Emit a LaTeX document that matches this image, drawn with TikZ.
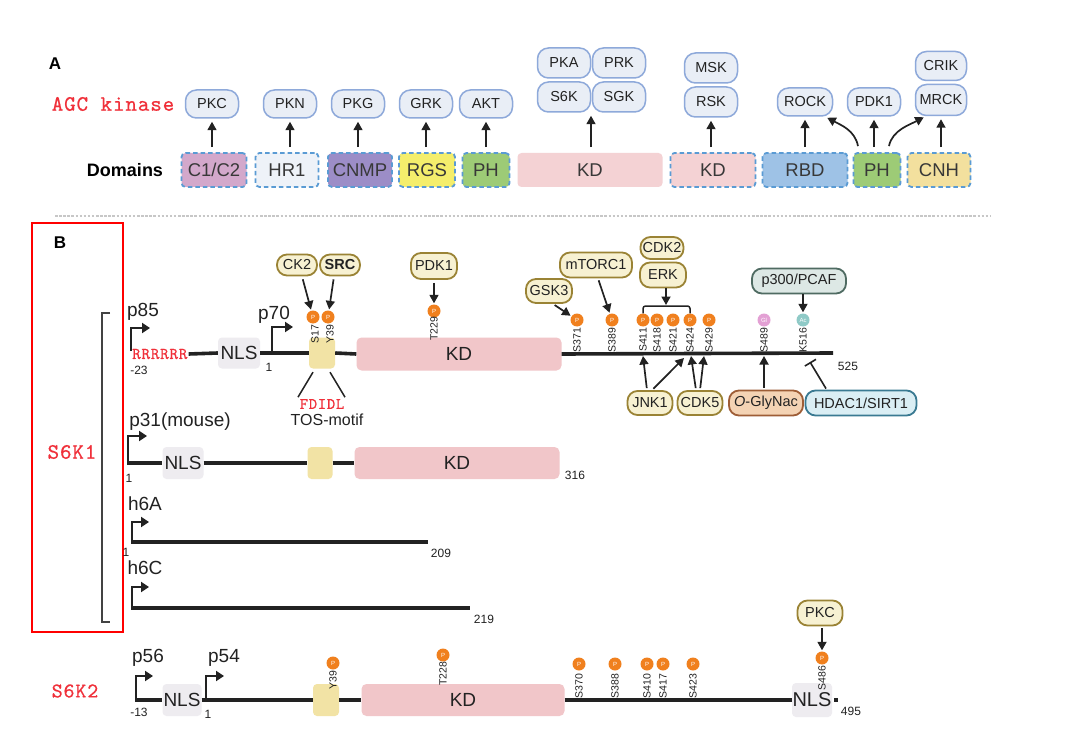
\documentclass[tikz,border=0pt]{standalone}
\usepackage{fontspec}
\setmainfont{Liberation Sans}
\newfontfamily\rmono{lmmono10-regular.otf}[LetterSpace=4,FakeBold=0.6]
\usetikzlibrary{arrows.meta,calc}
\newcommand\fsz[1]{\fontsize{#1}{#1}\selectfont}
\definecolor{apf}{HTML}{E9EEF6}
\definecolor{apb}{HTML}{8EA9DA}
\definecolor{dbl}{HTML}{5A9BD4}
\definecolor{kf}{HTML}{F7F1D2}
\definecolor{kb}{HTML}{9A8335}
\definecolor{lc}{HTML}{222222}
\definecolor{nlsf}{HTML}{EEECF0}
\definecolor{kdf}{HTML}{F1C6C9}
\definecolor{kdaf}{HTML}{F4D2D4}
\definecolor{tosf}{HTML}{F2E3A5}
\definecolor{po}{HTML}{F0801E}
\definecolor{glc}{HTML}{E3A0D4}
\definecolor{acc}{HTML}{8FCAC7}
\definecolor{redt}{HTML}{F0303A}
\definecolor{c1c2}{HTML}{D3A8CB}
\definecolor{hr1}{HTML}{EEF2F8}
\definecolor{cnmp}{HTML}{9C8DC7}
\definecolor{rgs}{HTML}{F4EE6C}
\definecolor{phg}{HTML}{9DCB76}
\definecolor{rbd}{HTML}{9EC2E6}
\definecolor{cnh}{HTML}{F3E09E}
\definecolor{p300f}{HTML}{DDE8E5}
\definecolor{p300b}{HTML}{4F6B62}
\definecolor{oglf}{HTML}{F4D3B4}
\definecolor{oglb}{HTML}{9E5D36}
\definecolor{hdf}{HTML}{DAEEF4}
\definecolor{hdb}{HTML}{3A7A92}
\tikzset{
 apill/.style={draw=apb, fill=apf, line width=1.5pt, rounded corners=11pt, minimum width=53pt, minimum height=28pt, inner sep=0pt, text=lc, font=\fsz{14.5}},
 dom/.style={draw=dbl, line width=1.8pt, dash pattern=on 4.5pt off 3pt, rounded corners=4pt, minimum height=34pt, inner sep=0pt, text=lc!90, font=\fsz{18.5}},
 kpill/.style={draw=kb, fill=kf, line width=1.8pt, rounded corners=10pt, minimum height=24pt, inner sep=0pt, text=lc, font=\fsz{14.5}},
 arr/.style={line width=1.7pt, draw=lc, -{Triangle[length=8.5pt,width=9pt]}},
 bbone/.style={line width=3.6pt, draw=lc},
 prom/.style={line width=2.2pt, draw=lc, -{Triangle[length=8pt,width=10pt]}},
 phos/.style={circle, fill=po, minimum size=13pt, inner sep=0pt, text=white, font=\fsz{6}},
 site/.style={rotate=90, inner sep=0pt, text=lc, font=\fsz{10.5}},
 num/.style={inner sep=0pt, text=lc, font=\fsz{12}},
 dlab/.style={inner sep=0pt, text=lc, font=\fsz{19}},
 nls/.style={fill=nlsf, rounded corners=4pt, minimum width=42pt, minimum height=31pt, inner sep=0pt, text=lc, font=\fsz{19}},
 kdbox/.style={fill=kdf, rounded corners=5pt, minimum height=33pt, inner sep=0pt, text=lc, font=\fsz{19}},
 tosbox/.style={fill=tosf, rounded corners=4pt, minimum width=26pt, minimum height=31pt, inner sep=0pt},
 redlab/.style={text=redt, inner sep=0pt},
}
\begin{document}
\begin{tikzpicture}[x=1pt,y=-1pt]
\useasboundingbox (0,0) rectangle (1080,741);
\fill[white] (0,0) rectangle (1080,741);

% ---------------- Panel A ----------------
\node[inner sep=0pt, font=\bfseries\fsz{17}] (la) at (55,64) {A};
\node[redlab, font=\rmono\fsz{22}] (agc) at (113,104) {AGC kinase};
\node[inner sep=0pt, font=\bfseries\fsz{18}] (domlab) at (125,170) {Domains};

\node[apill] (pkc) at (212,104) {PKC};
\node[apill] (pkn) at (290,104) {PKN};
\node[apill] (pkg) at (358,104) {PKG};
\node[apill] (grk) at (426,104) {GRK};
\node[apill] (akt) at (486,104) {AKT};
\node[apill, minimum height=30pt] (pka) at (564,63) {PKA};
\node[apill, minimum height=30pt] (prk) at (619,63) {PRK};
\node[apill, minimum height=30pt] (s6k) at (564,97) {S6K};
\node[apill, minimum height=30pt] (sgk) at (619,97) {SGK};
\node[apill, minimum height=30pt] (msk) at (711,68) {MSK};
\node[apill, minimum height=30pt] (rsk) at (711,102) {RSK};
\node[apill, minimum width=55pt] (rock) at (805,102) {ROCK};
\node[apill] (pdk) at (874,102) {PDK1};
\node[apill, minimum width=51pt, minimum height=29pt] (crik) at (941,66) {CRIK};
\node[apill, minimum width=51pt, minimum height=31pt] (mrck) at (941,100) {MRCK};

\node[dom, fill=c1c2, minimum width=65pt] (dc1) at (214,170) {C1/C2};
\node[dom, fill=hr1, minimum width=63pt] (dhr) at (287,170) {HR1};
\node[dom, fill=cnmp, minimum width=64pt] (dcn) at (360,170) {CNMP};
\node[dom, fill=rgs, minimum width=56pt] (drg) at (427,170) {RGS};
\node[dom, fill=phg, minimum width=47pt] (dph) at (486,170) {PH};
\node[dom, draw=none, fill=kdaf, minimum width=145pt] (dkd) at (590,170) {KD};
\node[dom, fill=kdaf, minimum width=85pt] (dkd2) at (713,170) {KD};
\node[dom, fill=rbd, minimum width=85pt] (drb) at (805,170) {RBD};
\node[dom, fill=phg, minimum width=47pt] (dph2) at (877,170) {PH};
\node[dom, fill=cnh, minimum width=63pt] (dcnh) at (939,170) {CNH};

\foreach \d/\k in {dc1/pkc,dhr/pkn,dcn/pkg,drg/grk,dph/akt,dkd2/rsk,drb/rock,dcnh/mrck}
  \draw[arr, shorten <=5pt, shorten >=3pt] (\d.north -| \k) -- (\k.south);
\draw[arr, shorten <=5pt, shorten >=3pt] ([xshift=1pt]dkd.north) -- ([xshift=1pt]dkd.north |- s6k.south);
\draw[arr, shorten <=5pt, shorten >=3pt] (dph2.north -| pdk) -- (pdk.south);
\draw[arr] ([xshift=-19pt,yshift=6pt]dph2.north) .. controls +(-3,-16) and +(13,7) .. ([xshift=-6pt,yshift=-1pt]rock.south east);
\draw[arr] ([xshift=12pt,yshift=6pt]dph2.north) .. controls +(3,-16) and +(-13,7) .. ([xshift=9pt,yshift=-1pt]mrck.south west);

% separator
\coordinate (sepl) at (55,216);
\coordinate (sepr) at (990,216);
\draw[draw=black!22, line width=2.5pt, dash pattern=on 2.5pt off 1.6pt] (sepl) -- (sepr);

% ---------------- Panel B ----------------
\node[draw=red, line width=2pt, minimum width=91pt, minimum height=409pt, inner sep=0pt] (rbox) at (77.5,427.5) {};
\node[inner sep=0pt, font=\bfseries\fsz{17}] (lb) at (60,243) {B};
\node[redlab, font=\rmono\fsz{22}] (s6k1) at (72,452) {S6K1};
\coordinate (brt) at (110,313);
\coordinate (brb) at (110,622);
\draw[line width=1.5pt, draw=lc!85] (brt) -- ++(-8,0) -- ++(0,309) -- (brb);

% p85 / p70 row (y = 353)
\node[dlab] (lp85) at (143,312) {p85};
\coordinate (p85s) at (131,351);
\draw[prom] (p85s) -- ++(0,-23) -- ++(19,0);
\node[redlab, font=\rmono\fsz{16.5}, anchor=west] (rr) at (132,354) {RRRRRR};
\node[num] (n23) at (139,370) {-23};
\node[nls] (nls1) at (239,353) {NLS};
\node[tosbox] (tos1) at (322,353) {};
\node[kdbox, minimum width=205pt] (kd1) at (459,354) {KD};
\coordinate (e525) at (833,353);
\draw[bbone] ([xshift=1pt]rr.east) -- (nls1.west);
\draw[bbone] (nls1.east) -- (tos1.west);
\draw[bbone] (tos1.east) -- (kd1.west);
\draw[bbone] (kd1.east) -- (e525);
\coordinate (p70s) at (272,353);
\draw[prom] (p70s) -- ++(0,-26) -- ++(21,0);
\node[dlab] (lp70) at (274,315) {p70};
\node[num] (n1a) at (269,367) {1};
\node[num] (n525) at (848,366) {525};

\node[phos] (ps17) at (313,317) {P};
\node[phos] (py39) at (328,317) {P};
\node[site] (ls17) at (315,334) {S17};
\node[site] (ly39) at (330,334) {Y39};
\node[kpill, minimum width=40pt, minimum height=21pt] (ck2) at (297,265) {CK2};
\node[kpill, minimum width=40pt, minimum height=21pt, font=\bfseries\fsz{14.5}] (src) at (340,265) {SRC};
\draw[arr, shorten <=3pt, shorten >=1pt] ([xshift=5pt]ck2.south) -- (ps17);
\draw[arr, shorten <=3pt, shorten >=1pt] ([xshift=-6pt]src.south) -- (py39);
\draw[line width=1.5pt, draw=lc] ([xshift=-9pt,yshift=-3.5pt]tos1.south) -- ++(-15,25);
\draw[line width=1.5pt, draw=lc] ([xshift=8pt,yshift=-3.5pt]tos1.south) -- ++(15,25);
\node[redlab, font=\rmono\fsz{16}] (fdidl) at (322,404) {FDIDL};
\node[inner sep=0pt, text=lc, font=\fsz{16}] (tosm) at (327,420) {TOS-motif};

\node[kpill, minimum width=46pt, minimum height=26pt] (pdkb) at (434,266) {PDK1};
\node[phos] (pt229) at (434,311) {P};
\node[site] (lt229) at (434,329) {T229};
\draw[arr, shorten <=3pt, shorten >=1pt] (pdkb.south) -- (pt229);

\foreach \n/\x/\t in {p371/577/S371,p389/612/S389,p411/643/S411,p418/657/S418,p421/673/S421,p424/690/S424,p429/709/S429}{
  \node[phos] (\n) at (\x,320) {P};
  \node[site] (l\n) at (\x,340) {\t};
}
\node[phos, fill=glc] (gl489) at (764,320) {Gl};
\node[site] (lgl489) at (764,340) {S489};
\node[phos, fill=acc] (ac516) at (803,320) {Ac};
\node[site] (lac516) at (803,340) {K516};

\node[kpill, minimum width=46pt, minimum height=24pt] (gsk) at (549,291) {GSK3};
\draw[arr, shorten <=2pt, shorten >=1pt] ([xshift=4pt]gsk.south) -- (p371);
\node[kpill, minimum width=72pt, minimum height=25pt] (mtor) at (596,265) {mTORC1};
\draw[arr, shorten <=2pt, shorten >=1pt] ([xshift=2pt]mtor.south) -- (p389);
\node[kpill, minimum width=43pt, minimum height=22pt] (cdk2) at (662,248) {CDK2};
\node[kpill, minimum width=46pt, minimum height=25pt] (erk) at (663,275) {ERK};
\coordinate (brk) at (666,306);
\draw[line width=1.5pt, draw=lc, rounded corners=2.5pt] (p411.north) -- (p411.north |- brk) -- (p424.north |- brk) -- (p424.north);
\draw[arr] ([xshift=3pt]erk.south) -- ([yshift=1pt]brk);
\node[kpill, draw=p300b, fill=p300f, minimum width=94pt, minimum height=25pt] (p300) at (799,281) {p300/PCAF};
\draw[arr, shorten >=1pt] (p300.south -| ac516) -- (ac516);

\node[kpill, minimum width=45pt, minimum height=24pt] (jnk) at (650,403) {JNK1};
\node[kpill, minimum width=45pt, minimum height=24pt] (cdk5) at (700,403) {CDK5};
\node[kpill, draw=oglb, fill=oglf, minimum width=74pt, minimum height=25pt] (ogl) at (766,403) {{\itshape O}-GlyNac};
\node[kpill, draw=hdb, fill=hdf, minimum width=111pt, minimum height=25pt] (hdac) at (861,403) {HDAC1/SIRT1};
\draw[arr, shorten <=2pt] ([xshift=-3pt]jnk.north) -- ([yshift=-3pt]p411 |- e525);
\draw[arr, shorten <=2pt] ([xshift=2pt]jnk.north) -- ([xshift=-6pt,yshift=-5pt]p424 |- e525);
\draw[arr, shorten <=2pt] ([xshift=-4pt]cdk5.north) -- ([xshift=1pt,yshift=-3pt]p424 |- e525);
\draw[arr, shorten <=2pt] ([xshift=0pt]cdk5.north) -- ([xshift=-5pt,yshift=-3pt]p429 |- e525);
\draw[arr, shorten <=2pt] (ogl.north -| gl489) -- ([yshift=-3pt]gl489 |- e525);
\draw[line width=1.6pt, draw=lc, -{Bar[width=13pt,line width=1.6pt]}] ([xshift=-35pt,yshift=1pt]hdac.north) -- ([xshift=7pt,yshift=-9pt]ac516 |- e525);

% p31 (mouse) row (y = 463)
\node[dlab] (lp31) at (180,422) {p31(mouse)};
\coordinate (p31s) at (128,463);
\draw[prom] (p31s) -- ++(0,-27) -- ++(19,0);
\node[num] (n1b) at (129,478) {1};
\node[nls, minimum width=41pt, minimum height=32pt] (nls2) at (183,463) {NLS};
\node[tosbox, minimum width=25pt, minimum height=32pt] (tos2) at (320,463) {};
\node[kdbox, minimum width=205pt, minimum height=32pt] (kd2) at (457,463) {KD};
\draw[bbone] ([xshift=-1pt]p31s) -- (nls2.west);
\draw[bbone] (nls2.east) -- (tos2.west);
\draw[bbone] (tos2.east) -- (kd2.west);
\node[num] (n316) at (575,475) {316};

% h6A row (y = 542)
\node[dlab] (lh6a) at (145,504) {h6A};
\coordinate (h6as) at (132,542);
\coordinate (h6ae) at (428,542);
\draw[prom] (h6as) -- ++(0,-20) -- ++(17,0);
\draw[bbone] ([xshift=-1pt]h6as) -- (h6ae);
\node[num] (n1c) at (126,552) {1};
\node[num] (n209) at (441,553) {209};

% h6C row (y = 608)
\node[dlab] (lh6c) at (145,568) {h6C};
\coordinate (h6cs) at (132,608);
\coordinate (h6ce) at (470,608);
\draw[prom] (h6cs) -- ++(0,-21) -- ++(17,0);
\draw[bbone] ([xshift=-1pt]h6cs) -- (h6ce);
\node[num] (n219) at (484,619) {219};

% S6K2 row (y = 700)
\node[redlab, font=\rmono\fsz{21}] (s6k2) at (75,691) {S6K2};
\coordinate (p56s) at (136,700);
\draw[prom] (p56s) -- ++(0,-24) -- ++(17,0);
\node[dlab] (lp56) at (148,658) {p56};
\node[num] (n13) at (139,712) {-13};
\node[nls, minimum width=39pt, minimum height=32pt] (nls3) at (182,700) {NLS};
\coordinate (p54s) at (206,700);
\draw[prom] (p54s) -- ++(0,-24) -- ++(18,0);
\node[dlab] (lp54) at (224,658) {p54};
\node[num] (n1d) at (208,714) {1};
\node[tosbox, minimum height=32pt] (tos3) at (326,700) {};
\node[kdbox, minimum width=203pt, minimum height=32pt] (kd3) at (463,700) {KD};
\node[nls, minimum width=40pt, minimum height=34pt, font=\fsz{20}] (nls4) at (812,700) {NLS};
\node[fill=lc, minimum size=4pt, inner sep=0pt] (endsq) at (836,700) {};
\node[num] (n495) at (851,711) {495};
\draw[bbone] ([xshift=-1pt]p56s) -- (nls3.west);
\draw[bbone] (nls3.east) -- (tos3.west);
\draw[bbone] (tos3.east) -- (kd3.west);
\draw[bbone] (kd3.east) -- (nls4.west);

\node[phos] (q39) at (333,663) {P};
\node[site] (lq39) at (333,680) {Y39};
\node[phos] (q228) at (443,655) {P};
\node[site] (lq228) at (443,674) {T228};
\foreach \n/\x/\t in {q370/579/S370,q388/615/S388,q410/647/S410,q417/663/S417,q423/693/S423}{
  \node[phos] (\n) at (\x,664) {P};
  \node[site] (l\n) at (\x,686) {\t};
}
\node[phos] (q486) at (822,658) {P};
\node[site] (lq486) at (822,678) {S486};
\node[kpill, minimum width=45pt, minimum height=25pt] (pkc2) at (820,613) {PKC};
\draw[arr, shorten <=2pt, shorten >=1pt] (pkc2.south -| q486) -- (q486);
\end{tikzpicture}
\end{document}
